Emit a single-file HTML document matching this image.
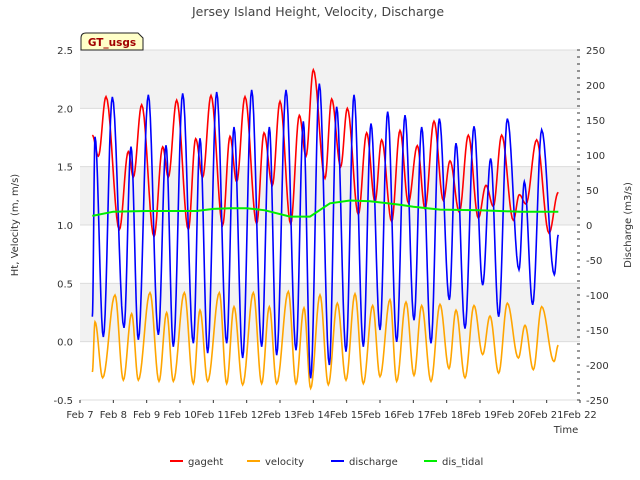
<!DOCTYPE html>
<html><head><meta charset="utf-8"><style>
body{margin:0;background:#fff;}
svg{display:block;font-family:"DejaVu Sans","Liberation Sans",sans-serif;}
</style></head><body>
<svg id="c" width="640" height="480" viewBox="0 0 640 480"></svg>
<script>
// ---- data (t = days since Feb 7) ----
const dayLabels=["Feb 7","Feb 8","Feb 9","Feb 10","Feb 11","Feb 12","Feb 13","Feb 14","Feb 15","Feb 16","Feb 17","Feb 18","Feb 19","Feb 20","Feb 21","Feb 22"];
const leftTicks=[-0.5,0,0.5,1,1.5,2,2.5];
const rightTicks=[-250,-200,-150,-100,-50,0,50,100,150,200,250];
const dischargeT=[0.37,0.45,0.70,0.97,1.32,1.53,1.75,2.05,2.35,2.58,2.80,3.08,3.40,3.60,3.83,4.10,4.40,4.62,4.88,5.15,5.45,5.68,5.90,6.18,6.48,6.70,6.92,7.18,7.48,7.70,7.98,8.22,8.50,8.73,9.00,9.23,9.50,9.75,10.02,10.25,10.53,10.78,11.08,11.28,11.55,11.82,12.08,12.32,12.56,12.82,13.17,13.33,13.58,13.85,14.23,14.35];
const dischargeV=[-131,126,-160,183,-147,112,-164,186,-157,114,-174,188,-169,124,-183,190,-169,140,-190,193,-174,140,-186,193,-179,148,-219,202,-200,169,-181,186,-174,145,-150,162,-167,157,-136,140,-169,152,-107,117,-148,141,-86,95,-131,152,-64,62,-114,136,-71,-14];
const gagehtT=[0.37,0.55,0.78,1.18,1.45,1.60,1.85,2.22,2.48,2.65,2.90,3.25,3.47,3.68,3.93,4.28,4.50,4.70,4.95,5.30,5.52,5.77,6.00,6.32,6.58,6.78,7.00,7.35,7.55,7.82,8.02,8.35,8.60,8.85,9.05,9.35,9.60,9.85,10.12,10.35,10.62,10.90,11.10,11.38,11.65,11.95,12.18,12.40,12.65,13.00,13.18,13.38,13.70,14.07,14.35];
const gagehtV=[1.77,1.59,2.10,0.96,1.63,1.41,2.03,0.90,1.67,1.41,2.07,0.96,1.74,1.41,2.11,1.00,1.76,1.37,2.10,1.01,1.79,1.34,2.06,1.01,1.94,1.59,2.33,1.40,2.08,1.50,2.00,1.09,1.79,1.20,1.73,1.03,1.81,1.19,1.68,1.14,1.89,1.21,1.55,1.11,1.77,1.06,1.34,1.16,1.77,1.04,1.26,1.18,1.73,0.93,1.28];
const velocityT=[0.37,0.45,0.68,1.05,1.30,1.55,1.75,2.10,2.37,2.60,2.80,3.13,3.40,3.60,3.83,4.18,4.40,4.62,4.88,5.20,5.45,5.68,5.90,6.25,6.48,6.72,6.92,7.20,7.45,7.72,7.98,8.25,8.50,8.78,9.00,9.30,9.50,9.78,10.02,10.25,10.53,10.80,11.07,11.28,11.55,11.82,12.08,12.30,12.56,12.82,13.15,13.35,13.60,13.85,14.22,14.35];
const velocityV=[-0.26,0.17,-0.31,0.40,-0.33,0.24,-0.33,0.42,-0.34,0.25,-0.34,0.42,-0.36,0.27,-0.34,0.42,-0.36,0.30,-0.37,0.42,-0.36,0.30,-0.36,0.43,-0.36,0.29,-0.40,0.40,-0.37,0.33,-0.33,0.41,-0.36,0.31,-0.30,0.36,-0.34,0.34,-0.29,0.31,-0.34,0.32,-0.23,0.27,-0.31,0.31,-0.11,0.22,-0.27,0.33,-0.14,0.14,-0.24,0.30,-0.17,-0.03];
const tidalT=[0.37,1.0,2.0,3.5,4.0,4.5,5.0,5.55,6.3,6.9,7.5,8.1,8.7,9.6,10.0,10.8,12.0,13.2,14.35];
const tidalV=[13,19,20,20,23,24,24,21,12,12,31,35,34,29,26,22,21,19,19];

const NS="http://www.w3.org/2000/svg";
const svg=document.getElementById('c');
const X0=80,X1=580,YT=50,YB=400;
const xs=t=>X0+t*(X1-X0)/15;
const yl=v=>YB-(v+0.5)*(YB-YT)/3;
const yr=q=>YB-(q+250)*(YB-YT)/500;
function el(tag,attrs,parent){const e=document.createElementNS(NS,tag);for(const k in attrs)e.setAttribute(k,attrs[k]);(parent||svg).appendChild(e);return e;}
function txt(s,attrs){const e=el('text',attrs);e.textContent=s;return e;}

// bands
const bands=[[2,2.5],[1,1.5],[0,0.5]];
bands.forEach(b=>{const r=el('rect',{x:X0,y:yl(b[1]),width:X1-X0,height:yl(b[0])-yl(b[1]),fill:'#f2f2f2'});

});
leftTicks.forEach(v=>{const l=el('line',{x1:X0,x2:X1,y1:yl(v),y2:yl(v),stroke:'#dcdcdc','stroke-width':1});

});

// cosine interpolated curve through extrema
function curvePath(T,V,ymap){let d='';for(let i=0;i<T.length-1;i++){const n=10;for(let k=(i?1:0);k<=n;k++){const f=k/n;const w=(1-Math.cos(Math.PI*f))/2;const t=T[i]+(T[i+1]-T[i])*f;const v=V[i]+(V[i+1]-V[i])*w;d+=(d?'L':'M')+xs(t).toFixed(2)+' '+ymap(v).toFixed(2);}}return d;}
function linePath(T,V,ymap){return T.map((t,i)=>(i?'L':'M')+xs(t).toFixed(2)+' '+ymap(V[i]).toFixed(2)).join('');}

const pv=el('path',{d:curvePath(velocityT,velocityV,yl),fill:'none',stroke:'orange','stroke-width':1.6});


const pg=el('path',{d:curvePath(gagehtT,gagehtV,yl),fill:'none',stroke:'red','stroke-width':1.6});


const pd=el('path',{d:curvePath(dischargeT,dischargeV,yr),fill:'none',stroke:'blue','stroke-width':1.6});


const pt=el('path',{d:linePath(tidalT,tidalV,yr),fill:'none',stroke:'#00ee00','stroke-width':2});



// left ticks
leftTicks.forEach(v=>{const t=txt(v.toFixed(1),{x:73,y:yl(v)+4,'text-anchor':'end','font-size':10,fill:'#333'});

});
// right ticks
for(let q=-250;q<=250;q+=10){const l=el('line',{x1:X1-3,x2:X1,y1:yr(q),y2:yr(q),stroke:'#333','stroke-width':1});

}
rightTicks.forEach(q=>{const t=txt(String(q),{x:586,y:yr(q)+4,'font-size':10,fill:'#333'});

});
// x ticks
dayLabels.forEach((s,i)=>{const x=xs(i);const l=el('line',{x1:x,x2:x,y1:YB,y2:YB+3,stroke:'#333'});


const t=txt(s,{x:x,y:418,'text-anchor':'middle','font-size':10,fill:'#333'});

});

const ti=txt('Jersey Island Height, Velocity, Discharge',{x:318,y:16,'text-anchor':'middle','font-size':12.5,fill:'#444'});


const xt=txt('Time',{x:566,y:433,'text-anchor':'middle','font-size':10,fill:'#333'});


const ylt=txt('Ht, Velocity (m, m/s)',{x:0,y:0,transform:'translate(18,225) rotate(-90)','text-anchor':'middle','font-size':10,fill:'#333'});


const yrt=txt('Discharge (m3/s)',{x:0,y:0,transform:'translate(631,225) rotate(-90)','text-anchor':'middle','font-size':10,fill:'#333'});



// GT_usgs box
const gb=el('path',{d:'M81 50 L81 38 Q81 33 86 33 L138 33 L143 38 L143 50 Z',fill:'#ffffc8',stroke:'#222','stroke-width':1});


const gt=txt('GT_usgs',{x:112,y:46,'text-anchor':'middle','font-size':10.5,'font-weight':'bold',fill:'#a00000'});



// legend
const legNames=['gageht','velocity','discharge','dis_tidal'];
const legColors=['red','orange','blue','#00ee00'];
const legX=[170,247,331,424];
legNames.forEach((n,i)=>{const l=el('line',{x1:legX[i],x2:legX[i]+13,y1:461,y2:461,stroke:legColors[i],'stroke-width':2});


const t=txt(n,{x:legX[i]+18,y:465,'font-size':10,fill:'#333'});

});
</script>
</body></html>
